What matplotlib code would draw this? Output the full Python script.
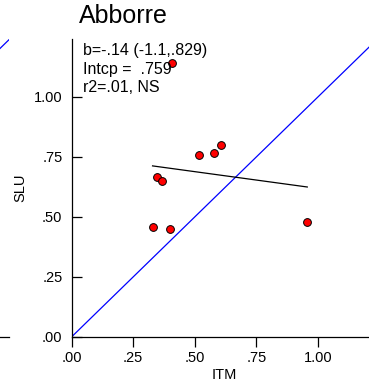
import numpy as np
import matplotlib
matplotlib.use('Agg')
import matplotlib.pyplot as plt

plt.rcParams['font.family'] = ['Liberation Sans', 'DejaVu Sans']

# data
itm = [0.329, 0.349, 0.368, 0.399, 0.409, 0.518, 0.579, 0.608, 0.957]
slu = [0.460, 0.668, 0.649, 0.449, 1.140, 0.758, 0.768, 0.800, 0.479]
slope = -0.14
intercept = 0.759
ticks = [0.0, 0.25, 0.5, 0.75, 1.0]
tickLabels = ['.00', '.25', '.50', '.75', '1.00']
statLines = ['b=-.14 (-1.1,.829)', 'Intcp =  .759', 'r2=.01, NS']
lim = 1.24

W, H = 369, 392
fig = plt.figure(figsize=(W / 100, H / 100), dpi=100)

# axes geometry in pixels
axL, axB, axW, axH = 71.5, 55, 305.5, 297.6

# edge of the neighbouring panel on the left
nb = fig.add_axes([(9.3 - axW) / W, axB / H, axW / W, axH / H])
nb.plot([0, lim], [0, lim], color='blue', lw=0.9)
nb.set_xlim(0, lim)
nb.set_ylim(0, lim)
for s in ['top', 'right', 'left']:
  nb.spines[s].set_visible(False)
nb.spines['bottom'].set_linewidth(0.9)
nb.set_xticks([])
nb.set_yticks([])
nb.patch.set_alpha(0)

ax = fig.add_axes([axL / W, axB / H, axW / W, axH / H])
ax.patch.set_alpha(0)
ax.plot([0, lim], [0, lim], color='blue', lw=0.9, zorder=1)
xFit = np.array([min(itm), max(itm)])
ax.plot(xFit, intercept + slope * xFit, color='black', lw=0.9, zorder=2)
ax.plot(itm, slu, 'o', color='red', markeredgecolor='black', markeredgewidth=0.7,
        markersize=5.6, zorder=3, clip_on=False)

ax.set_xlim(0, lim)
ax.set_ylim(0, lim)
ax.set_xticks(ticks)
ax.set_xticklabels(tickLabels)
ax.set_yticks(ticks)
ax.set_yticklabels(tickLabels)
ax.spines['top'].set_visible(False)
ax.spines['right'].set_visible(False)
ax.spines['left'].set_linewidth(0.9)
ax.spines['bottom'].set_linewidth(0.9)
ax.tick_params(axis='x', direction='out', length=7.5, width=0.9, pad=2.5, labelsize=10.5)
ax.tick_params(axis='y', direction='in', length=7.5, width=0.9, pad=6.5, labelsize=10.5)
ax.set_xlabel('ITM', fontsize=10.5, labelpad=2)
ax.set_ylabel('SLU', fontsize=10.5, labelpad=4.5)

for i, line in enumerate(statLines):
  ax.text(0.0386, 0.948 - i * 0.063, line, transform=ax.transAxes,
          fontsize=11.5, va='baseline', ha='left')

fig.text(79.3 / W, 1 - 23 / H, 'Abborre', fontsize=18, va='baseline', ha='left')

fig.savefig('out.png', dpi=100)
